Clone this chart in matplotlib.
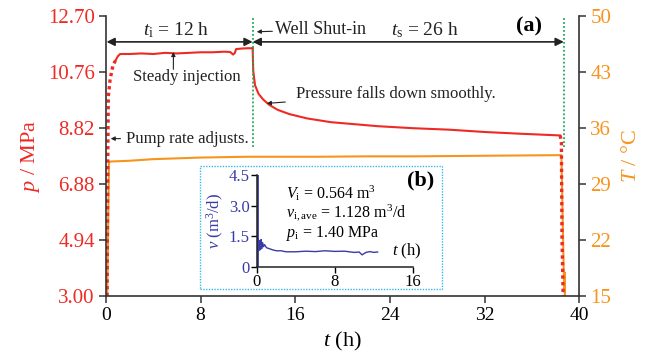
import matplotlib
matplotlib.use('Agg')
import matplotlib.pyplot as plt
from matplotlib.patches import Rectangle

plt.rcParams['font.family'] = ['Liberation Serif', 'DejaVu Serif']
plt.rcParams['mathtext.fontset'] = 'custom'
plt.rcParams['mathtext.rm'] = 'Liberation Serif'
plt.rcParams['mathtext.it'] = 'Liberation Serif:italic'
plt.rcParams['mathtext.bf'] = 'Liberation Serif:bold'

RED = '#ee2a24'
ORANGE = '#f7941d'
GREEN = '#22aa55'
BLUE = '#3a3aa8'
BOX = '#33bbee'
DARK = '#333333'

# pressure (MPa) vs time (h)
ramp_t = [0.1, 0.12, 0.15, 0.2, 0.35, 0.6, 0.8]
ramp_p = [3.0, 5.0, 7.5, 9.9, 10.5, 11.0, 11.15]
inj_t = [0.8, 1.0, 1.2, 2, 3, 4, 5, 6, 7, 8, 9, 10, 10.5, 10.75, 10.9, 11.0, 11.5, 12.0, 12.4]
inj_p = [11.15, 11.3, 11.38, 11.38, 11.40, 11.38, 11.42, 11.40, 11.42, 11.44, 11.44,
         11.46, 11.45, 11.36, 11.42, 11.55, 11.57, 11.58, 11.58]
shut_t = [12.4, 12.45, 12.6, 12.9, 13.3, 13.8, 14.5, 15.5, 17, 19, 21, 23, 26, 29, 32, 35, 38.4]
shut_p = [11.58, 10.8, 10.3, 10.0, 9.8, 9.62, 9.45, 9.3, 9.15, 9.02, 8.95, 8.88,
          8.81, 8.76, 8.68, 8.62, 8.56]
drop_t = [38.4, 38.5, 38.55, 38.65]
drop_p = [8.56, 8.3, 5.0, 3.0]

# temperature (degC) vs time (h)
temp_t = [0.1, 0.15, 0.25, 0.3, 2, 4, 6, 8, 10, 12, 14, 18, 22, 26, 30, 34, 38.5,
          38.6, 38.7, 38.75, 38.8, 38.8]
temp_T = [15.0, 19.0, 31.5, 31.8, 31.9, 32.1, 32.2, 32.3, 32.35, 32.4, 32.4, 32.4,
          32.45, 32.45, 32.5, 32.55, 32.6, 25.0, 18.0, 15.5, 17.9, 15.0]

# inset: injection rate (m3/d) vs time (h)
rate_t = [0, 0.02, 0.05, 0.1, 0.15, 0.2, 0.3, 0.35, 0.45, 0.5, 0.6, 0.7, 0.8, 1.0,
          1.3, 1.6, 2, 2.5, 3, 4, 5, 6, 7, 8, 9, 10, 10.5, 10.8, 11.2, 11.6, 12, 12.4]
rate_v = [0, 4.5, 1.5, 0.9, 1.4, 0.8, 1.3, 0.85, 1.35, 0.9, 1.2, 1.0, 1.1, 0.95,
          0.9, 0.85, 0.8, 0.8, 0.75, 0.75, 0.78, 0.76, 0.8, 0.77, 0.78, 0.72, 0.74,
          0.6, 0.72, 0.76, 0.72, 0.74]

p_ticks = [3.00, 4.94, 6.88, 8.82, 10.76, 12.70]
T_ticks = [15, 22, 29, 36, 43, 50]
t_ticks = [0, 8, 16, 24, 32, 40]

fig = plt.figure(figsize=(6.5, 3.61), dpi=100)
ax = fig.add_axes([0.163, 0.180, 0.728, 0.776])
ax2 = ax.twinx()

ax2.plot(temp_t, temp_T, color=ORANGE, lw=1.5)
ax.plot(ramp_t, ramp_p, color=RED, lw=2.4, ls=(0, (1, 1)))
ax.plot(inj_t, inj_p, color=RED, lw=1.5)
ax.plot(shut_t, shut_p, color=RED, lw=1.5)
ax.plot(drop_t, drop_p, color=RED, lw=2.4, ls=(0, (1, 1)))
ax.set_zorder(ax2.get_zorder() + 1)
ax.patch.set_visible(False)

ax.set_xlim(0, 40)
ax.set_ylim(3.0, 12.7)
ax2.set_ylim(15, 50)
ax.set_xticks(t_ticks)
ax.set_yticks(p_ticks)
ax.set_yticklabels([f'{v:.2f}' for v in p_ticks])
ax2.set_yticks(T_ticks)

for a in (ax, ax2):
    a.spines['top'].set_visible(False)
    for s in a.spines.values():
        s.set_color(DARK)
        s.set_linewidth(1.2)
ax.spines['right'].set_visible(False)
ax2.spines['left'].set_visible(False)
ax2.spines['bottom'].set_visible(False)

ax.tick_params(axis='x', direction='out', length=5, width=1.1, color=DARK,
               labelsize=14, pad=3)
ax.tick_params(axis='y', direction='out', length=5, width=1.1, color=DARK,
               labelsize=15, labelcolor=RED, pad=3)
ax2.tick_params(axis='y', direction='out', length=5, width=1.1, color=DARK,
                labelsize=15, labelcolor=ORANGE, pad=3)

ax.set_xlabel(r'$t$ (h)', fontsize=16, labelpad=4)
ax.set_ylabel(r'$p$ / MPa', fontsize=16, color=RED, labelpad=4)
ax2.set_ylabel(r'$T$ / °C', fontsize=16, color=ORANGE, labelpad=8)

# shut-in markers
ax.vlines([12.4, 38.7], 8.15, 12.62, colors=GREEN, lw=1.3, linestyles=(0, (1, 1.2)))

# duration arrows
arr = dict(arrowstyle='<|-|>', color='#222222', lw=1.2, mutation_scale=12, shrinkA=0, shrinkB=0)
ax.annotate('', xy=(0.05, 11.80), xytext=(12.4, 11.80), arrowprops=arr)
ax.annotate('', xy=(12.4, 11.80), xytext=(38.7, 11.80), arrowprops=arr)
ax.text(5.9, 12.22, r'$t_{\mathrm{i}}$ = 12 h', fontsize=14, ha='center', va='center', color='#222222')
ax.text(27.0, 12.22, r'$t_{\mathrm{s}}$ = 26 h', fontsize=14, ha='center', va='center', color='#222222')
ax.text(35.8, 12.32, '(a)', fontsize=16, fontweight='bold', ha='center', va='center')

small = dict(arrowstyle='-|>', color='#222222', lw=0.8, mutation_scale=6, shrinkA=0, shrinkB=0)
ax.annotate('Well Shut-in', xy=(12.75, 12.15), xytext=(14.3, 12.22), fontsize=13,
            va='center', color='#222222', arrowprops=small)
ax.annotate('', xy=(5.7, 11.45), xytext=(5.7, 10.85), arrowprops=small)
ax.text(6.8, 10.58, 'Steady injection', fontsize=12, ha='center', va='center', color='#222222')
ax.annotate('Pressure falls down smoothly.', xy=(13.6, 9.67), xytext=(16.1, 10.0),
            fontsize=12, va='center', color='#222222',
            arrowprops=dict(arrowstyle='-|>', color='#222222', lw=0.8,
                            mutation_scale=6, shrinkA=6, shrinkB=0))
ax.annotate('Pump rate adjusts.', xy=(0.4, 8.45), xytext=(1.7, 8.45), fontsize=12,
            va='center', color='#222222',
            arrowprops=dict(arrowstyle='-|>', color='#222222', lw=0.8,
                            mutation_scale=6, shrinkA=2, shrinkB=0))

# inset box and axes
fig.patches.append(Rectangle((0.308, 0.199), 0.372, 0.341, transform=fig.transFigure,
                             fill=False, edgecolor=BOX, lw=1.0, ls=(0, (1, 1)), zorder=5))
ins = fig.add_axes([0.395, 0.260, 0.240, 0.255])
ins.patch.set_visible(False)
ins.plot(rate_t, rate_v, color=BLUE, lw=1.0)
ins.plot([0, 0], [0, 4.5], color=BLUE, lw=2.0)
ins.set_xlim(0, 16)
ins.set_ylim(0, 4.5)
ins.set_xticks([0, 8, 16])
ins.set_yticks([0, 1.5, 3.0, 4.5])
ins.set_yticklabels(['0', '1.5', '3.0', '4.5'])
ins.spines['top'].set_visible(False)
ins.spines['right'].set_visible(False)
for s in ('left', 'bottom'):
    ins.spines[s].set_color('#222222')
    ins.spines[s].set_linewidth(1.1)
ins.tick_params(axis='x', direction='out', length=4, width=1, labelsize=12, pad=1)
ins.tick_params(axis='y', direction='out', length=4, width=1, labelsize=12,
                labelcolor=BLUE, pad=1)
ins.set_ylabel(r'$v$ (m$^3$/d)', fontsize=12, color=BLUE, labelpad=2)
ins.text(15.4, 0.75, r'$t$ (h)', fontsize=12, ha='center', va='center')
ins.text(16.8, 4.25, '(b)', fontsize=16, fontweight='bold', ha='center', va='center')
ins.text(3.0, 3.62, r'$V_{\mathrm{i}}$ = 0.564 m$^3$', fontsize=11.5, va='center')
ins.text(3.0, 2.62, r'$v_{\mathrm{i,ave}}$ = 1.128 m$^3$/d', fontsize=11.5, va='center')
ins.text(3.0, 1.64, r'$p_{\mathrm{i}}$ = 1.40 MPa', fontsize=11.5, va='center')

fig.savefig('out.png', dpi=100)
